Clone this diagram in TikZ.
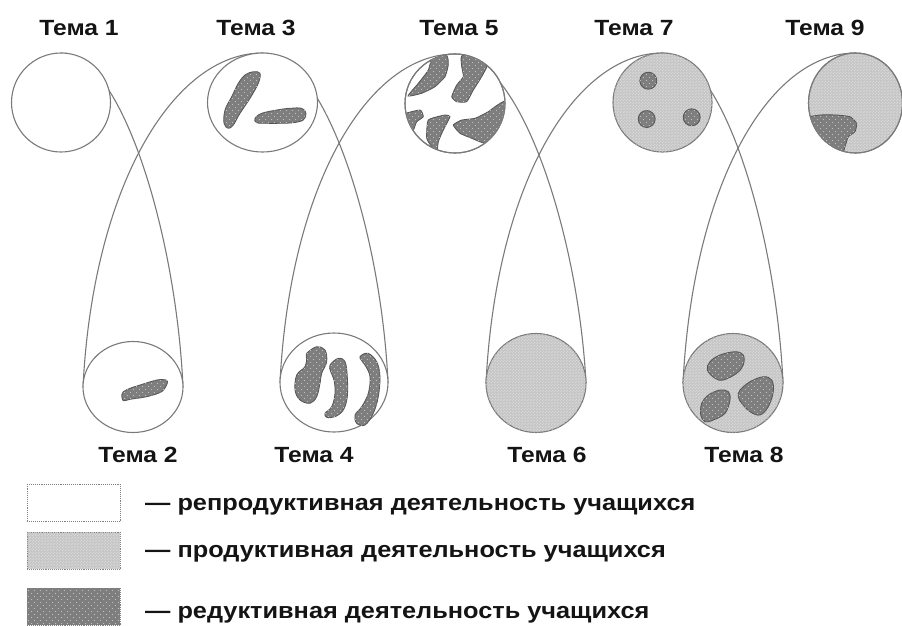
\documentclass[tikz,border=0pt]{standalone}
\usepackage{fontspec}
\setmainfont{Liberation Sans}
\newfontfamily\capfont{Liberation Sans}[FakeStretch=1.12]
\usetikzlibrary{shapes.geometric,patterns,backgrounds}

\definecolor{lightfill}{HTML}{C6C6C6}
\definecolor{darkfill}{HTML}{7E7E7E}
\definecolor{rimgray}{HTML}{7A7A7A}
\definecolor{blobrim}{HTML}{555555}
\definecolor{textink}{HTML}{141414}

% stipple textures
\pgfdeclarepatternformonly{sparsedots}{\pgfpoint{-1pt}{-1pt}}{\pgfpoint{7pt}{7pt}}{\pgfpoint{6pt}{6pt}}{%
  \pgfpathcircle{\pgfpoint{1.5pt}{1.5pt}}{0.55pt}%
  \pgfpathcircle{\pgfpoint{4.5pt}{4.5pt}}{0.55pt}%
  \pgfusepath{fill}}
\pgfdeclarepatternformonly{finedots}{\pgfpoint{-1pt}{-1pt}}{\pgfpoint{4pt}{4pt}}{\pgfpoint{3pt}{3pt}}{%
  \pgfpathcircle{\pgfpoint{0.75pt}{0.75pt}}{0.45pt}%
  \pgfpathcircle{\pgfpoint{2.25pt}{2.25pt}}{0.45pt}%
  \pgfusepath{fill}}

\tikzset{
  disc/.style={ellipse, draw=rimgray, line width=1.1pt, inner sep=0pt, outer sep=0pt, fill=white},
  prod/.style={disc, fill=lightfill, postaction={pattern=finedots, pattern color=white!92!lightfill}},
  loopline/.style={draw=rimgray, line width=1.1pt},
  blob/.style={fill=darkfill, draw=blobrim, line width=0.8pt, postaction={pattern=sparsedots, pattern color=darkfill!50!white}},
  tema/.style={font=\capfont\bfseries\fontsize{22}{24}\selectfont, text=textink, anchor=base, inner sep=0pt},
  legtext/.style={font=\capfont\bfseries\fontsize{22.6}{24}\selectfont, text=textink, anchor=base west, inner sep=0pt},
  legbox/.style={draw=gray, densely dotted, line width=0.9pt, minimum width=93pt, minimum height=37pt, inner sep=0pt, anchor=north west}
}

\begin{document}
\begin{tikzpicture}[x=1pt, y=-1pt]
\useasboundingbox (0,0) rectangle (902,625);

% topic circles, upper row
\node[disc, minimum width=99pt,  minimum height=99pt]  (t1) at (61,102.5) {};
\node[disc, minimum width=110pt, minimum height=99pt]  (t3) at (262.5,102.5) {};
\node[disc, minimum width=100pt, minimum height=99pt]  (t5) at (455,103.5) {};
\node[prod, minimum width=99pt,  minimum height=99pt]  (t7) at (662.5,102.5) {};
\node[prod, minimum width=94pt,  minimum height=100pt] (t9) at (855.5,103) {};
% topic circles, lower row
\node[disc, minimum width=100pt, minimum height=91pt]  (t2) at (133,387) {};
\node[disc, minimum width=108pt, minimum height=99pt]  (t4) at (334,382.5) {};
\node[prod, minimum width=100pt, minimum height=99pt]  (t6) at (536,383) {};
\node[prod, minimum width=100pt, minimum height=99pt]  (t8) at (733,383) {};

% the looping thread through the topics
\begin{scope}[on background layer]
\draw[loopline] (t1.north) .. controls +(60,0) and +(-7,-154) .. (t2.east);
\draw[loopline] (t2.west) .. controls +(10,-201) and +(-89,0) .. (t3.north);
\draw[loopline] (t3.north) .. controls +(62,0) and +(-7,-152) .. (t4.east);
\draw[loopline] (t4.west) .. controls +(10,-198) and +(-87,0) .. (t5.north);
\draw[loopline] (t5.north) .. controls +(64,0) and +(-8,-152) .. (t6.east);
\draw[loopline] (t6.west) .. controls +(10,-199) and +(-88,0) .. (t7.north);
\draw[loopline] (t7.north) .. controls +(60,0) and +(-7,-152) .. (t8.east);
\draw[loopline] (t8.west) .. controls +(10,-198) and +(-87,0) .. (t9.north);
\end{scope}

% Topic 2
\draw[blob] plot[smooth cycle, tension=0.5] coordinates {(121.7,395) (123.3,391.7) (130,388.3) (140,385) (156.7,380) (166,380) (167.3,383.3) (161.7,391.7) (146.7,396.7) (130,399.3) (123.3,400.7)};

% Topic 3
\draw[blob] plot[smooth cycle, tension=0.6] coordinates {(253.3,71.7) (260,73.3) (258.3,83.3) (250,98.3) (240,113.3) (233.3,125) (228.3,128.3) (224,123.3) (225,110) (231.7,96.7) (238.3,83.3) (245,75)};
\draw[blob] plot[smooth cycle, tension=0.6] coordinates {(255,118.3) (261.7,113.3) (276.7,110) (290,108.3) (301.7,108.3) (306,113.3) (303.3,120) (293.3,122.7) (280,123.3) (266.7,123.3) (256.7,122.7)};

% Topic 4
\draw[blob] plot[smooth cycle, tension=0.6] coordinates {(306.7,353.3) (316.7,346.7) (325,350) (326.7,361.7) (321.7,373.3) (320,383.3) (316.7,396.7) (310,403.3) (300,400) (295,390) (296.7,375) (305,366.7) (306.7,358.3)};
\draw[blob] plot[smooth cycle, tension=0.6] coordinates {(330,365) (338.3,358.3) (345,361.7) (347.3,376.7) (347.3,396.7) (343.3,410) (335,416.7) (326.7,417.3) (325,413.3) (331.7,406.7) (335,393.3) (334,380) (330.7,371.7)};
\draw[blob] plot[smooth cycle, tension=0.6] coordinates {(361.7,355) (368.3,353.3) (376.7,361.7) (380,376.7) (378.3,396.7) (373.3,413.3) (365,425) (356.7,423.3) (355,415) (361.7,406.7) (368.3,393.3) (370,376.7) (365,365) (360,358.3)};

% Topic 5
\begin{scope}
\clip (455,103.5) ellipse [x radius=49.5pt, y radius=49pt];
\draw[blob] plot[smooth cycle, tension=0.3] coordinates {(433.3,54) (447,56) (448.3,65) (445,76.7) (435,86.7) (421.7,93.3) (408,96) (418.3,83.3) (428.3,70)};
\draw[blob] plot[smooth cycle, tension=0.3] coordinates {(461.7,56) (478,54) (488,63.3) (481.7,76.7) (473.3,90) (466.7,101.7) (456.7,101.7) (451.7,96.7) (456.7,85) (463.3,76.7) (461.7,66.7)};
\draw[blob] plot[smooth cycle, tension=0.3] coordinates {(402,115) (420,110) (423.3,116.7) (416.7,121.7) (413.3,130) (406,128)};
\draw[blob] plot[smooth cycle, tension=0.3] coordinates {(428.3,120) (445,115) (450,116.7) (443.3,130) (438.3,141.7) (436.7,154) (431.7,146.7) (426.7,138.3)};
\draw[blob] plot[smooth cycle, tension=0.3] coordinates {(453.3,125) (461.7,120) (475,118.3) (488.3,111.7) (495,106.7) (506,101) (506,125) (495,136.7) (485,143.3) (471.7,138.3) (460,133.3)};
\end{scope}
\draw[rimgray, line width=1.1pt] (t5.center) ellipse [x radius=50pt, y radius=49.5pt];

% Topic 7
\draw[blob] (648.3,80.7) circle [radius=8.5pt];
\draw[blob] (646.7,119) circle [radius=8.5pt];
\draw[blob] (691.7,117.3) circle [radius=8.5pt];

% Topic 8
\draw[blob] plot[smooth cycle, tension=0.6] coordinates {(710,361.7) (720,355) (735,351.7) (743.3,355) (743.3,365) (736.7,373.3) (723.3,380) (715,378.3) (707.3,370)};
\draw[blob] plot[smooth cycle, tension=0.6] coordinates {(701.7,403.3) (708.3,395) (720,390) (728.3,391.7) (730,400) (725,413.3) (713.3,420) (705,421.7) (700.7,415)};
\draw[blob] plot[smooth cycle, tension=0.6] coordinates {(740,390) (750,381.7) (763.3,376.7) (771.7,380) (773.3,391.7) (768.3,406.7) (760,415) (750,411.7) (741.7,403.3) (738.3,396.7)};

% Topic 9
\begin{scope}
\clip (855.5,103) ellipse [x radius=46.5pt, y radius=49.5pt];
\draw[blob] plot[smooth cycle, tension=0.3] coordinates {(805,118.3) (820,115) (836.7,115) (850,116.7) (856.7,123.3) (855,131.7) (848.3,136.7) (845,146.7) (841.7,156) (833.3,150) (823.3,143.3) (812,133.3)};
\end{scope}
\draw[rimgray, line width=1.1pt] (t9.center) ellipse [x radius=47pt, y radius=50pt];

% topic captions
\node[tema] (c1) at (79,35)  {Тема 1};
\node[tema] (c3) at (256,35) {Тема 3};
\node[tema] (c5) at (459,35) {Тема 5};
\node[tema] (c7) at (634,35) {Тема 7};
\node[tema] (c9) at (825,35) {Тема 9};
\node[tema] (c2) at (138,462) {Тема 2};
\node[tema] (c4) at (314,462) {Тема 4};
\node[tema] (c6) at (547,462) {Тема 6};
\node[tema] (c8) at (744,462) {Тема 8};

% legend
\node[legbox, fill=white] (k1) at (27,484) {};
\node[legbox, fill=lightfill, postaction={pattern=finedots, pattern color=white!92!lightfill}] (k2) at (27,532) {};
\node[legbox, fill=darkfill, postaction={pattern=sparsedots, pattern color=darkfill!50!white}] (k3) at (27,588) {};
\node[legtext] (d1) at (145,510.7) {— репродуктивная деятельность учащихся};
\node[legtext] (d2) at (145,557)   {— продуктивная деятельность учащихся};
\node[legtext] (d3) at (145,618)   {— редуктивная деятельность учащихся};
\end{tikzpicture}
\end{document}
